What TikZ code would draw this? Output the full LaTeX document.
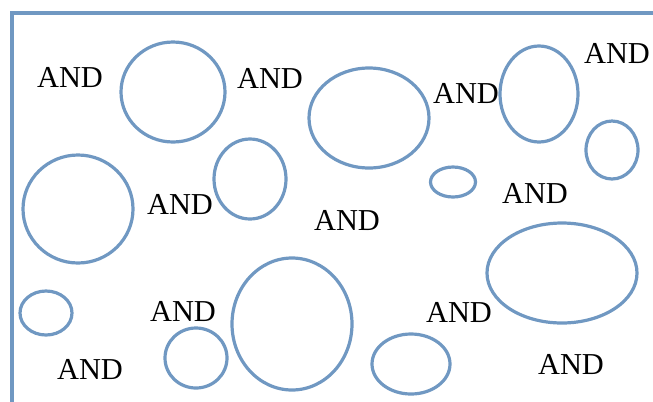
\documentclass[tikz,border=0pt]{standalone}
\usepackage{fontspec}
\setmainfont{Liberation Serif}
\usetikzlibrary{shapes.geometric}
\definecolor{blobblue}{RGB}{112,152,194}
\tikzset{
  blob/.style={draw=blobblue, line width=2.4pt, ellipse, inner sep=0pt},
  andlbl/.style={font=\fontsize{22.8}{25}\selectfont, inner sep=0pt, text=black},
}
\newcommand{\blobat}[5]{\node[blob, minimum width=#4*1.5pt+1.5pt, minimum height=#5*1.5pt+1.5pt] (#1) at (#2,#3) {};}
\begin{document}
\begin{tikzpicture}[x=0.75pt,y=-0.75pt]
\useasboundingbox (0,0) rectangle (653,401);
\coordinate (bl) at (12,410);
\coordinate (tl) at (12,13);
\coordinate (tr) at (660,13);
\draw[blobblue, line width=2.4pt] (bl) -- (tl) -- (tr);
% ellipses: name, cx, cy, rx, ry (px)
\blobat{e1}{173}{92}{51}{49}
\blobat{e2}{369}{118}{59}{49}
\blobat{e3}{539}{94}{38}{47}
\blobat{e4}{612}{150}{25}{28}
\blobat{e5}{78}{209}{54}{53}
\blobat{e6}{250}{179}{35}{39}
\blobat{e7}{453}{182}{21.5}{14}
\blobat{e8}{562}{273}{74}{49}
\blobat{e9}{46}{313}{25}{21}
\blobat{e10}{196}{358}{30}{29}
\blobat{e11}{292}{324}{59}{65}
\blobat{e12}{411}{364}{38}{29}
% labels
\node[andlbl] (a1) at (70,77) {AND};
\node[andlbl] (a2) at (270,78) {AND};
\node[andlbl] (a3) at (466,93) {AND};
\node[andlbl] (a4) at (617,53) {AND};
\node[andlbl] (a5) at (180,204) {AND};
\node[andlbl] (a6) at (347,220) {AND};
\node[andlbl] (a7) at (535,193) {AND};
\node[andlbl] (a8) at (183,311) {AND};
\node[andlbl] (a9) at (459,312) {AND};
\node[andlbl] (a10) at (90,369) {AND};
\node[andlbl] (a11) at (571,364) {AND};
\end{tikzpicture}
\end{document}
